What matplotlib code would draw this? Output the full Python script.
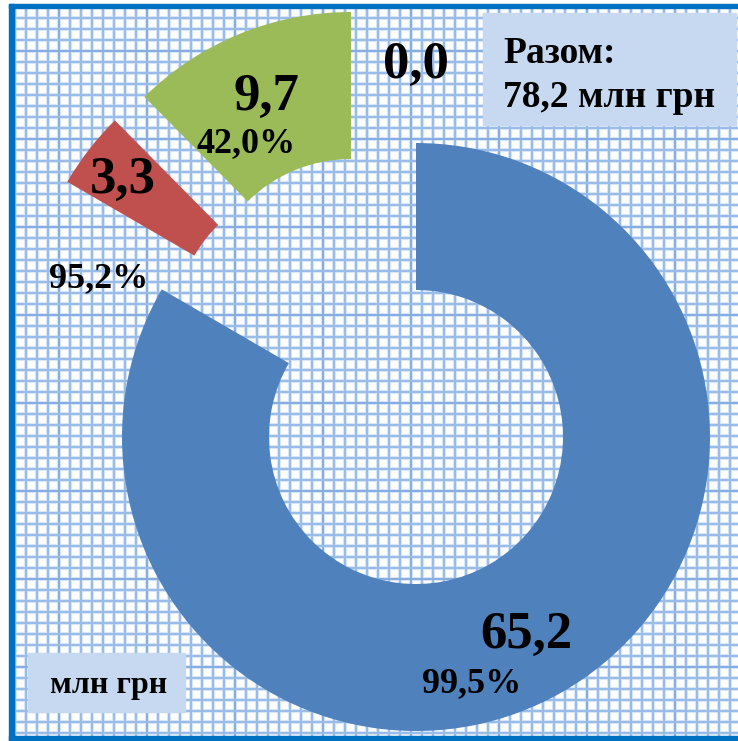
import numpy as np
import matplotlib.pyplot as plt
from matplotlib.patches import Rectangle

# data
values = [65.2, 3.3, 9.7, 0.0]
value_labels = ['65,2', '3,3', '9,7', '0,0']
pct_labels = ['99,5%', '95,2%', '42,0%', '']
colors = ['#4F81BD', '#C0504D', '#9BBB59', '#8064A2']
total_text = ['Разом:', '78,2 млн грн']
unit_text = 'млн грн'

W, H = 738, 741
fig = plt.figure(figsize=(W / 100, H / 100), dpi=100)
ax = fig.add_axes([0, 0, 1, 1])


def y(p):
    # pixel row (from top) -> data y
    return H - p


# grid background
left, right, top, bottom = 14, W, 8, 736
xs = np.arange(15, right, 11)
ys = np.arange(7, bottom, 11)
for i, xv in enumerate(xs):
    ax.plot([xv, xv], [y(top), y(bottom)], color='#DCE8F7', lw=3.0, zorder=0, solid_capstyle='butt')
for i, yv in enumerate(ys):
    ax.plot([left, right], [y(yv), y(yv)], color='#DCE8F7', lw=3.0, zorder=0, solid_capstyle='butt')
for i, xv in enumerate(xs):
    c = '#86AEE0' if i % 8 == 4 else '#99BCE8'
    ax.plot([xv, xv], [y(top), y(bottom)], color=c, lw=1.5, zorder=0.1, solid_capstyle='butt')
for i, yv in enumerate(ys):
    c = '#86AEE0' if i % 8 == 4 else '#99BCE8'
    ax.plot([left, right], [y(yv), y(yv)], color=c, lw=1.5, zorder=0.1, solid_capstyle='butt')

# border (left, top, bottom)
ax.add_patch(Rectangle((9, y(741)), 5, 741 - 4, color='#0070C0', zorder=3))
ax.add_patch(Rectangle((9, y(8)), W - 9, 4, color='#0070C0', zorder=3))
ax.add_patch(Rectangle((9, y(740)), W - 9, 4, color='#0070C0', zorder=3))

# doughnut
cx, cy = 416, y(437)
R = 294
wedges, _ = ax.pie(values, colors=colors, startangle=90, counterclock=False,
                   radius=R, center=(cx, cy),
                   wedgeprops=dict(width=147, linewidth=0))
shifts = [(0, 0), (-94.5, 107.5), (-65, 131), (0, 0)]
for w, (dx, dy) in zip(wedges, shifts):
    w.set_center((cx + dx, cy + dy))
    w.set_zorder(2)

font = dict(family='Liberation Serif', weight='bold', color='black', zorder=5)

big_pos = [(526, 648), (123, 193), (266, 110), (416, 78)]
pct_pos = [(472, 692), (99, 287), (246, 152), (0, 0)]
for lab, (px, py) in zip(value_labels, big_pos):
    ax.text(px, y(py), lab, fontsize=38, ha='center', va='baseline', **font)
for lab, (px, py) in zip(pct_labels, pct_pos):
    if lab:
        ax.text(px, y(py), lab, fontsize=26, ha='center', va='baseline', **font)

# text boxes
ax.add_patch(Rectangle((483, y(125)), 736 - 483, 112, color='#C6D9F1', zorder=4))
ax.text(503, y(63), total_text[0], fontsize=27, ha='left', va='baseline', **font)
ax.text(503, y(107), total_text[1], fontsize=27, ha='left', va='baseline', **font)

ax.add_patch(Rectangle((28, y(712)), 185 - 28, 59, color='#C6D9F1', zorder=4))
ax.text(50, y(693), unit_text, fontsize=23, ha='left', va='baseline', **font)

ax.set_xlim(0, W)
ax.set_ylim(0, H)
ax.set_aspect('auto')
ax.axis('off')

fig.savefig('out.png', dpi=100, facecolor='white')
